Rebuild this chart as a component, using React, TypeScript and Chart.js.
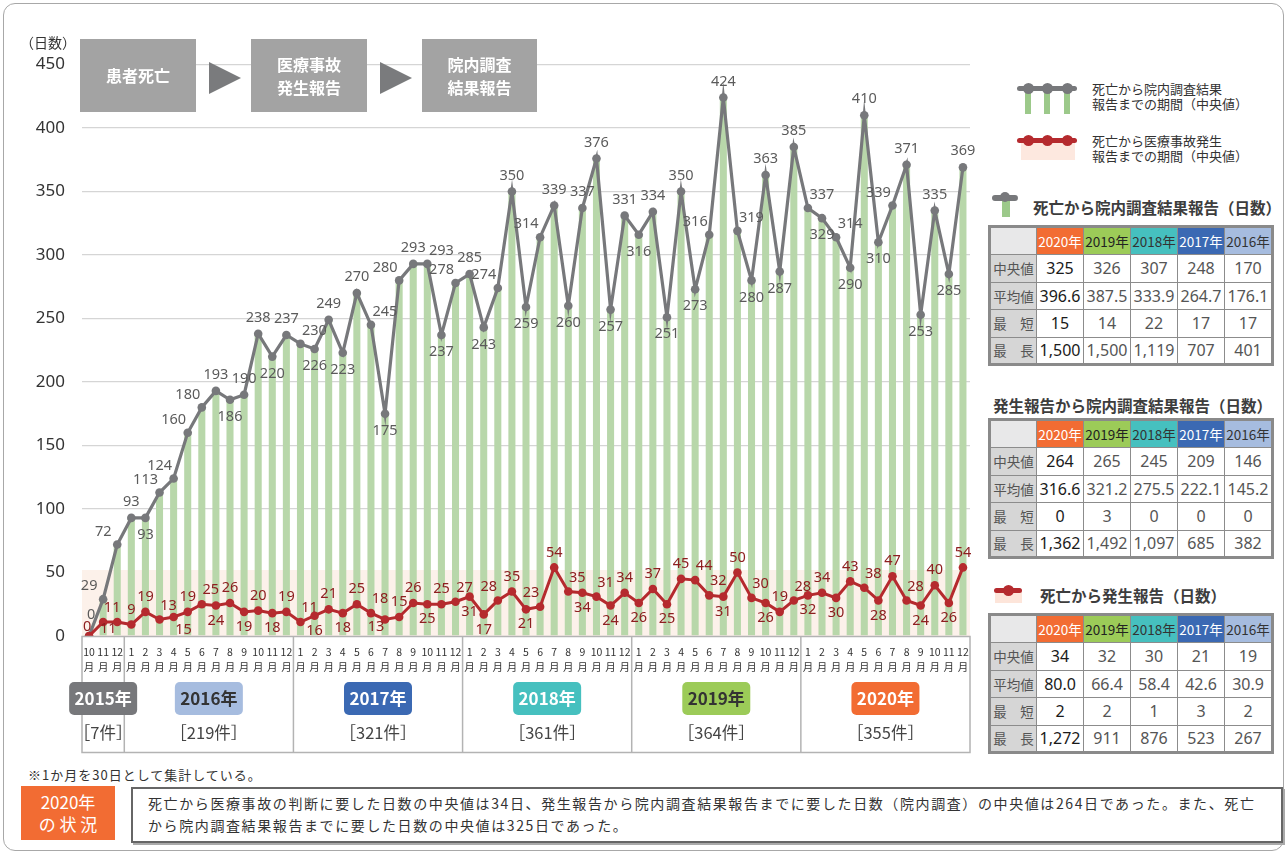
import React, { useEffect, useRef } from 'react';
import { Chart, registerables } from 'chart.js';

Chart.register(...registerables);

// ---------------- data ----------------
const MONTHS = [
  '10', '11', '12',
  '1', '2', '3', '4', '5', '6', '7', '8', '9', '10', '11', '12',
  '1', '2', '3', '4', '5', '6', '7', '8', '9', '10', '11', '12',
  '1', '2', '3', '4', '5', '6', '7', '8', '9', '10', '11', '12',
  '1', '2', '3', '4', '5', '6', '7', '8', '9', '10', '11', '12',
  '1', '2', '3', '4', '5', '6', '7', '8', '9', '10', '11', '12',
];
const YEARS = ['2015年', '2016年', '2017年', '2018年', '2019年', '2020年'];
const YEAR_SPANS = [3, 12, 12, 12, 12, 12];
const YEAR_COUNTS = ['［7件］', '［219件］', '［321件］', '［361件］', '［364件］', '［355件］'];

// death -> in-hospital investigation report (median days)
const DEATH_TO_RESULT = [
  0, 29, 72,
  93, 93, 113, 124, 160, 180, 193, 186, 190, 238, 220, 237,
  230, 226, 249, 223, 270, 245, 175, 280, 293, 293, 237, 278,
  285, 243, 274, 350, 259, 314, 339, 260, 337, 376, 257, 331,
  316, 334, 251, 350, 273, 316, 424, 319, 280, 363, 287, 385,
  337, 329, 314, 290, 410, 310, 339, 371, 253, 335, 285, 369,
];
// death -> accident occurrence report (median days)
const DEATH_TO_REPORT = [
  0, 11, 11,
  9, 19, 13, 15, 19, 25, 24, 26, 19, 20, 18, 19,
  11, 16, 21, 18, 25, 18, 13, 15, 26, 25, 25, 27,
  31, 17, 28, 35, 21, 23, 54, 35, 34, 31, 24, 34,
  26, 37, 25, 45, 44, 32, 31, 50, 30, 26, 19, 28,
  32, 34, 30, 43, 38, 28, 47, 28, 24, 40, 26, 54,
];
const Y_MIN = 0;
const Y_MAX = 450;
const Y_STEP = 50;
const BAND_TOP = 52;

const TABLE_YEARS = ['2020年', '2019年', '2018年', '2017年', '2016年'];
const ROW_LABELS = ['中央値', '平均値', '最　短', '最　長'];
const T1_MEDIAN = ['325', '326', '307', '248', '170'];
const T1_MEAN = ['396.6', '387.5', '333.9', '264.7', '176.1'];
const T1_MIN = ['15', '14', '22', '17', '17'];
const T1_MAX = ['1,500', '1,500', '1,119', '707', '401'];
const T2_MEDIAN = ['264', '265', '245', '209', '146'];
const T2_MEAN = ['316.6', '321.2', '275.5', '222.1', '145.2'];
const T2_MIN = ['0', '3', '0', '0', '0'];
const T2_MAX = ['1,362', '1,492', '1,097', '685', '382'];
const T3_MEDIAN = ['34', '32', '30', '21', '19'];
const T3_MEAN = ['80.0', '66.4', '58.4', '42.6', '30.9'];
const T3_MIN = ['2', '2', '1', '3', '2'];
const T3_MAX = ['1,272', '911', '876', '523', '267'];

// ---------------- styles ----------------
const GRAY = '#77787b';
const RED = '#b52a2e';
const GREEN = '#b8d7aa';
const BAND = '#fcf1ea';
const YEAR_BG = ['#77787b', '#a6bcdf', '#3b69b3', '#46c0bf', '#9ccb58', '#f26c33'];
const YEAR_FG = ['#ffffff', '#333333', '#ffffff', '#ffffff', '#333333', '#ffffff'];
const TH_BG = ['#f26c33', '#9ccb58', '#46c0bf', '#3b69b3', '#a6bcdf'];
const TH_FG = ['#ffffff', '#222222', '#333333', '#ffffff', '#333333'];
const JP = "'Noto Sans CJK JP', 'Noto Sans', sans-serif";
const NUM = "'Noto Sans', 'Noto Sans CJK JP', sans-serif";

function placement(vals: number[], i: number, first: string): string {
  const v = vals[i];
  if (i === 0) return first;
  if (i === vals.length - 1) return 'above';
  const p = vals[i - 1];
  const n = vals[i + 1];
  if (v >= p && v >= n) return 'above';
  if (v <= p && v <= n) return 'below';
  return n > p ? 'upleft' : 'upright';
}

const decorPlugin = {
  id: 'decor',
  beforeDatasetsDraw(chart: any) {
    const { ctx, chartArea, scales } = chart;
    const y = scales.y;
    const t = y.getPixelForValue(BAND_TOP);
    const b = y.getPixelForValue(0);
    ctx.save();
    ctx.fillStyle = BAND;
    ctx.fillRect(chartArea.left, t, chartArea.right - chartArea.left, b - t);
    ctx.restore();
  },
  afterDatasetsDraw(chart: any) {
    const { ctx, chartArea } = chart;
    const specs = [
      { idx: 1, vals: DEATH_TO_RESULT, color: '#5b5b5b', first: 'first', off: { above: [0, -16], below: [0, 17], upleft: [-14, -13], upright: [14, -13], downright: [14, 14], first: [2, -21] } },
      { idx: 0, vals: DEATH_TO_REPORT, color: '#8e1f20', first: 'left', off: { above: [0, -15], below: [0, 15], upleft: [-9, -14], upright: [9, -14], downright: [10, 13], downleft: [-9, 7], left: [-2, -9] } },
    ];
    ctx.save();
    ctx.font = `14.5px ${NUM}`;
    ctx.textAlign = 'center';
    ctx.textBaseline = 'middle';
    const placed: number[][] = [];
    const overlaps = (b: number[]) =>
      b[3] > chartArea.bottom + 1 ||
      placed.some((q) => b[0] < q[2] && b[2] > q[0] && b[1] < q[3] && b[3] > q[1]);
    specs.forEach((s: any) => {
      const meta = chart.getDatasetMeta(s.idx);
      ctx.fillStyle = s.color;
      meta.data.forEach((pt: any, i: number) => {
        const txt = String(s.vals[i]);
        const w = ctx.measureText(txt).width;
        const primary = placement(s.vals, i, s.first);
        const cands = [primary, 'above', 'upright', 'upleft', 'below', 'downright', 'downleft'];
        let chosen = '';
        let box: number[] = [];
        for (const c of cands) {
          const o = s.off[c];
          if (!o) continue;
          const cx = pt.x + o[0];
          const cy = pt.y + o[1];
          const b = [cx - w / 2 - 0.5, cy - 6, cx + w / 2 + 0.5, cy + 6];
          if (!overlaps(b)) {
            chosen = c;
            box = b;
            break;
          }
        }
        if (!chosen) chosen = s.off[primary] && primary !== 'below' ? primary : 'above';
        const o = s.off[chosen];
        const cx = pt.x + o[0];
        const cy = pt.y + o[1];
        if (!box.length) box = [cx - w / 2, cy - 6, cx + w / 2, cy + 6];
        placed.push(box);
        ctx.fillText(txt, cx, cy);
      });
    });
    ctx.restore();
  },
  afterDraw(chart: any) {
    const { ctx, chartArea, scales } = chart;
    const x = scales.x;
    const top = chartArea.bottom;
    const bottom = 752;
    ctx.save();
    ctx.strokeStyle = '#b3b3b3';
    ctx.lineWidth = 1.5;
    ctx.strokeRect(chartArea.left, top + 0.5, chartArea.right - chartArea.left, bottom - top);
    let idx = 0;
    const n = MONTHS.length;
    YEAR_SPANS.forEach((span, k) => {
      const first = idx;
      const last = idx + span - 1;
      const x0 = x.getPixelForValue(first);
      const x1 = x.getPixelForValue(last);
      if (last < n - 1) {
        const sx = (x1 + x.getPixelForValue(last + 1)) / 2;
        ctx.beginPath();
        ctx.moveTo(sx, top);
        ctx.lineTo(sx, bottom);
        ctx.stroke();
      }
      const cx = (x0 + x1) / 2;
      ctx.fillStyle = YEAR_BG[k];
      ctx.beginPath();
      (ctx as any).roundRect(cx - 34, 682, 68, 33, 5);
      ctx.fill();
      ctx.fillStyle = YEAR_FG[k];
      ctx.font = `bold 17px ${JP}`;
      ctx.textAlign = 'center';
      ctx.textBaseline = 'middle';
      ctx.fillText(YEARS[k], cx, 699);
      ctx.fillStyle = '#444444';
      ctx.font = `16.5px ${JP}`;
      ctx.fillText(YEAR_COUNTS[k], cx, 733);
      idx += span;
    });
    ctx.restore();
  },
};

function ChartCanvas() {
  const ref = useRef<HTMLCanvasElement | null>(null);
  useEffect(() => {
    if (!ref.current) return;
    Chart.defaults.font.family = NUM;
    const chart = new Chart(ref.current, {
      type: 'bar',
      data: {
        labels: MONTHS.map((m) => [m, '月']),
        datasets: [
          {
            type: 'line',
            label: '死亡から医療事故発生報告までの期間（中央値）',
            data: DEATH_TO_REPORT,
            borderColor: RED,
            backgroundColor: RED,
            pointBackgroundColor: RED,
            pointBorderColor: RED,
            borderWidth: 3,
            pointRadius: 4.3,
            pointBorderWidth: 0,
            tension: 0,
            order: 1,
          } as any,
          {
            type: 'line',
            label: '死亡から院内調査結果報告までの期間（中央値）',
            data: DEATH_TO_RESULT,
            borderColor: GRAY,
            backgroundColor: GRAY,
            pointBackgroundColor: GRAY,
            pointBorderColor: GRAY,
            borderWidth: 3.2,
            pointRadius: 4.3,
            pointBorderWidth: 0,
            tension: 0,
            order: 2,
          } as any,
          {
            type: 'bar',
            label: 'bars',
            data: DEATH_TO_RESULT,
            backgroundColor: GREEN,
            barPercentage: 0.5,
            categoryPercentage: 1,
            order: 3,
          } as any,
        ],
      },
      options: {
        animation: false,
        responsive: false,
        maintainAspectRatio: false,
        layout: { padding: { top: 64.5, right: 15, bottom: 0, left: 0 } },
        plugins: { legend: { display: false }, tooltip: { enabled: false } },
        scales: {
          x: {
            offset: true,
            grid: { display: false, drawTicks: false },
            border: { display: false },
            ticks: {
              autoSkip: false,
              maxRotation: 0,
              minRotation: 0,
              color: '#333333',
              padding: 8,
              font: { size: 10.5, lineHeight: 1.45, family: JP },
            },
            afterFit: (s: any) => {
              s.height = 124;
            },
          },
          y: {
            min: Y_MIN,
            max: Y_MAX,
            ticks: { stepSize: Y_STEP, color: '#333333', padding: 17, font: { size: 17 } },
            grid: { color: '#d5d5d5', lineWidth: 1.3, drawTicks: false },
            border: { display: false },
            afterFit: (s: any) => {
              s.width = 82;
            },
          },
        },
      },
      plugins: [decorPlugin],
    } as any);
    return () => chart.destroy();
  }, []);
  return (
    <canvas
      ref={ref}
      width={985}
      height={760}
      style={{ position: 'absolute', left: 0, top: 0, width: 985, height: 760 }}
    />
  );
}

function StatTable(props: { top: number; rows: string[][] }) {
  const cellBorder = '1.5px solid #8c8c8c';
  const colW = [47, 47, 47, 47, 47, 48];
  return (
    <table
      style={{
        position: 'absolute',
        left: 988,
        top: props.top,
        width: 284,
        borderCollapse: 'collapse',
        tableLayout: 'fixed',
        border: '3px solid #8a8a8a',
        fontFamily: NUM,
        background: '#fff',
      }}
    >
      <colgroup>
        {colW.map((w, i) => (
          <col key={i} style={{ width: w }} />
        ))}
      </colgroup>
      <tbody>
        <tr style={{ height: 28 }}>
          <td style={{ background: '#e8e8e9', border: cellBorder, padding: 0 }} />
          {TABLE_YEARS.map((y, i) => (
            <td
              key={y}
              style={{
                background: TH_BG[i],
                color: TH_FG[i],
                border: cellBorder,
                textAlign: 'center',
                fontSize: 13.5,
                fontFamily: JP,
                padding: 0,
              }}
            >
              {y}
            </td>
          ))}
        </tr>
        {props.rows.map((r, ri) => (
          <tr key={ri} style={{ height: 27.5 }}>
            <td
              style={{
                background: '#d6d6d6',
                color: '#555',
                border: cellBorder,
                textAlign: 'center',
                fontSize: 13.5,
                fontFamily: JP,
                padding: 0,
              }}
            >
              {ROW_LABELS[ri]}
            </td>
            {r.map((v, ci) => (
              <td
                key={ci}
                style={{
                  border: cellBorder,
                  textAlign: 'center',
                  fontSize: 16,
                  color: ci === 0 ? '#1a1a1a' : '#555',
                  padding: 0,
                  whiteSpace: 'nowrap',
                }}
              >
                {v}
              </td>
            ))}
          </tr>
        ))}
      </tbody>
    </table>
  );
}

const abs = (l: number, t: number, extra: any = {}) => ({ position: 'absolute', left: l, top: t, ...extra } as any);

function FlowBox(props: { left: number; width: number; lines: string[] }) {
  return (
    <div
      style={abs(props.left, 39, {
        width: props.width,
        height: 73,
        background: '#a3a3a3',
        color: '#fff',
        fontWeight: 'bold',
        fontSize: 16,
        lineHeight: '23px',
        fontFamily: JP,
        display: 'flex',
        flexDirection: 'column',
        alignItems: 'center',
        justifyContent: 'center',
      })}
    >
      {props.lines.map((l) => (
        <div key={l}>{l}</div>
      ))}
    </div>
  );
}

function Arrow(props: { left: number }) {
  return (
    <div
      style={abs(props.left, 62, {
        width: 0,
        height: 0,
        borderLeft: '32px solid #7a7b7d',
        borderTop: '16.5px solid transparent',
        borderBottom: '16.5px solid transparent',
      })}
    />
  );
}

function Dot(props: { x: number; y: number; r: number; color: string }) {
  return (
    <div
      style={abs(props.x - props.r, props.y - props.r, {
        width: props.r * 2,
        height: props.r * 2,
        borderRadius: '50%',
        background: props.color,
      })}
    />
  );
}

export default function App() {
  const legendText = { fontFamily: JP, fontSize: 13, lineHeight: '14.5px', color: '#333' };
  const titleStyle = { fontFamily: JP, fontSize: 15.5, fontWeight: 'bold', color: '#3d3d3d', lineHeight: '22px', whiteSpace: 'nowrap' };
  return (
    <div style={{ position: 'absolute', left: 0, top: 0, width: 1287, height: 854, background: '#fff', overflow: 'hidden' }}>
      <div
        style={abs(3, 3, {
          width: 1279,
          height: 846,
          border: '1px solid #a8a8a8',
          borderRadius: 12,
        })}
      />
      <ChartCanvas />
      <div style={abs(20, 32, { fontFamily: JP, fontSize: 14, color: '#333' })}>（日数）</div>

      <FlowBox left={80} width={116} lines={['患者死亡']} />
      <Arrow left={209} />
      <FlowBox left={251} width={116} lines={['医療事故', '発生報告']} />
      <Arrow left={380} />
      <FlowBox left={422} width={115} lines={['院内調査', '結果報告']} />

      {/* legend 1 */}
      {[1028, 1047, 1067].map((x) => (
        <div key={'g' + x} style={abs(x - 3, 88, { width: 6, height: 26, background: '#9cc98a' })} />
      ))}
      <div style={abs(1017, 85.5, { width: 60, height: 5, borderRadius: 3, background: GRAY })} />
      {[1028, 1047, 1067].map((x) => (
        <Dot key={'gd' + x} x={x} y={88} r={5.5} color={GRAY} />
      ))}
      <div style={abs(1092, 82, legendText)}>
        死亡から院内調査結果
        <br />
        報告までの期間（中央値）
      </div>

      {/* legend 2 */}
      <div style={abs(1021, 140, { width: 54, height: 20, background: '#fde8df' })} />
      <div style={abs(1017, 137.5, { width: 60, height: 5, borderRadius: 3, background: RED })} />
      {[1028, 1047, 1067].map((x) => (
        <Dot key={'rd' + x} x={x} y={140} r={5.5} color={RED} />
      ))}
      <div style={abs(1092, 134, legendText)}>
        死亡から医療事故発生
        <br />
        報告までの期間（中央値）
      </div>

      {/* table 1 */}
      <div style={abs(1002, 200, { width: 8, height: 17, background: '#9cc98a' })} />
      <div style={abs(992, 195, { width: 26, height: 6, borderRadius: 3, background: GRAY })} />
      <Dot x={1005} y={197} r={5} color={GRAY} />
      <div style={abs(1033, 196, titleStyle)}>死亡から院内調査結果報告（日数）</div>
      <StatTable top={225} rows={[T1_MEDIAN, T1_MEAN, T1_MIN, T1_MAX]} />

      {/* table 2 */}
      <div style={abs(993, 394, titleStyle)}>発生報告から院内調査結果報告（日数）</div>
      <StatTable top={418} rows={[T2_MEDIAN, T2_MEAN, T2_MIN, T2_MAX]} />

      {/* table 3 */}
      <div style={abs(995, 592, { width: 27, height: 11, background: '#fde5da' })} />
      <div style={abs(994, 588, { width: 28, height: 5, borderRadius: 3, background: RED })} />
      <Dot x={1008} y={590} r={5.5} color={RED} />
      <div style={abs(1040, 584, titleStyle)}>死亡から発生報告（日数）</div>
      <StatTable top={613} rows={[T3_MEDIAN, T3_MEAN, T3_MIN, T3_MAX]} />

      {/* footnote */}
      <div style={abs(28, 765, { fontFamily: JP, fontSize: 13, color: '#333', letterSpacing: 1 })}>
        ※1か月を30日として集計している。
      </div>
      <div
        style={abs(21, 786, {
          width: 94,
          height: 54,
          background: '#f26c33',
          color: '#fff',
          fontFamily: JP,
          fontSize: 17,
          lineHeight: '22px',
          display: 'flex',
          flexDirection: 'column',
          alignItems: 'center',
          justifyContent: 'center',
        })}
      >
        <div>2020年</div>
        <div>の 状 況</div>
      </div>
      <div
        style={abs(131, 787, {
          width: 1133,
          height: 49,
          border: '2px solid #666',
          boxShadow: '2px 2px 0 #aaa',
          fontFamily: JP,
          fontSize: 14,
          lineHeight: '22px',
          color: '#333',
          padding: '3px 0 0 15px',
          boxSizing: 'content-box',
          letterSpacing: 1.6,
          whiteSpace: 'nowrap',
        })}
      >
        死亡から医療事故の判断に要した日数の中央値は34日、発生報告から院内調査結果報告までに要した日数（院内調査）の中央値は264日であった。また、死亡
        <br />
        から院内調査結果報告までに要した日数の中央値は325日であった。
      </div>
    </div>
  );
}
